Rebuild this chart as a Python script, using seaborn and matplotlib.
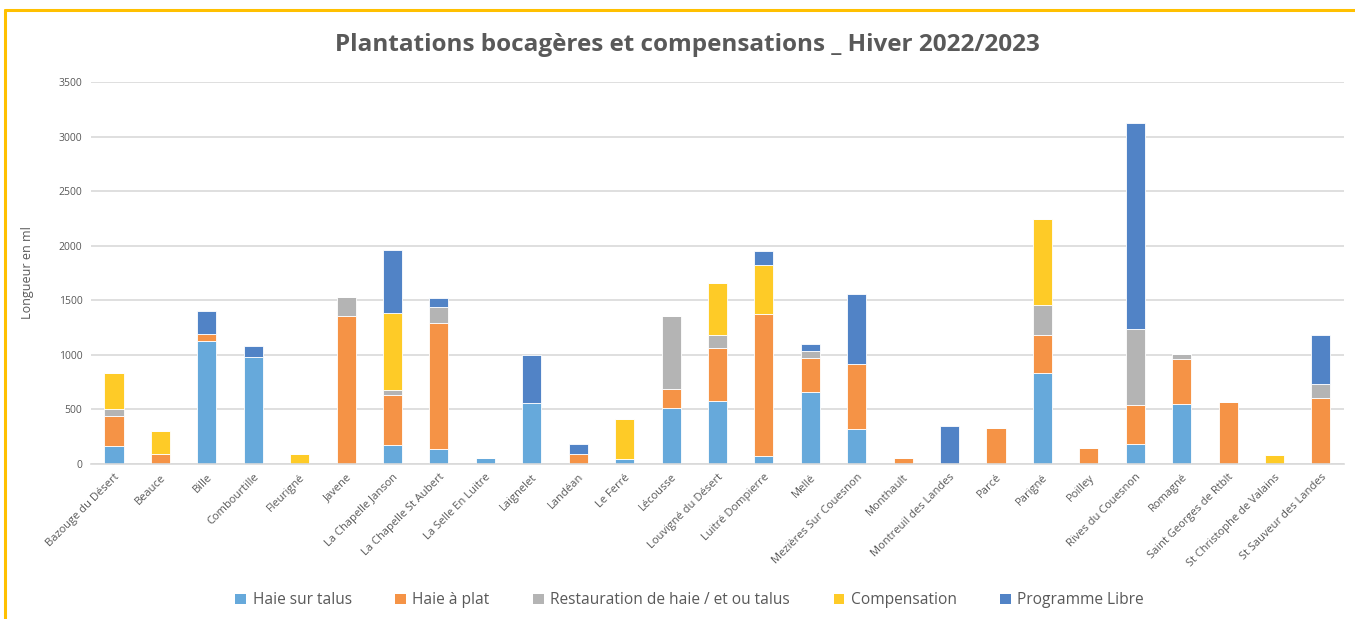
import matplotlib
matplotlib.use("Agg")
import matplotlib.pyplot as plt
import seaborn as sns
import numpy as np
from matplotlib.patches import Patch
from matplotlib.lines import Line2D

communes = ["Bazouge du Désert", "Beauce", "Bille", "Combourtille", "Fleurigné", "Javene",
            "La Chapelle Janson", "La Chapelle St Aubert", "La Selle En Luitre", "Laignelet",
            "Landéan", "Le Ferré", "Lécousse", "Louvigné du Désert", "Luitré Dompierre", "Mellé",
            "Mezières Sur Couesnon", "Monthault", "Montreuil des Landes", "Parcé", "Parigné",
            "Poilley", "Rives du Couesnon", "Romagné", "Saint Georges de Rtblt",
            "St Christophe de Valains", "St Sauveur des Landes"]

haie_sur_talus = [160, 0, 1120, 975, 0, 0, 170, 130, 55, 552, 0, 40, 510, 578, 65, 655, 315,
                  0, 0, 0, 828, 0, 180, 548, 0, 0, 0]
haie_a_plat = [275, 90, 67, 0, 0, 1355, 460, 1160, 0, 0, 90, 0, 170, 480, 1310, 312, 600,
               55, 0, 330, 352, 145, 358, 408, 565, 0, 602]
restauration = [62, 0, 0, 0, 0, 172, 40, 145, 0, 0, 0, 0, 670, 120, 0, 67, 0,
                0, 0, 0, 275, 0, 696, 52, 0, 0, 131]
compensation = [333, 210, 0, 0, 90, 0, 715, 0, 0, 0, 0, 366, 0, 475, 448, 0, 0,
                0, 0, 0, 792, 0, 0, 0, 0, 78, 0]
programme_libre = [0, 0, 208, 104, 0, 0, 577, 80, 0, 448, 90, 0, 0, 0, 130, 67, 644,
                   0, 340, 0, 0, 0, 1891, 0, 0, 0, 446]

series_names = ["Haie sur talus", "Haie à plat", "Restauration de haie / et ou talus",
                "Compensation", "Programme Libre"]
series_colors = ["#66A9DB", "#F59346", "#B4B4B4", "#FECB27", "#5183C6"]
yticks = [0, 500, 1000, 1500, 2000, 2500, 3000, 3500]

sns.set_style("white")
plt.rcParams['font.family'] = ['Open Sans', 'DejaVu Sans']
text_color = "#595959"

fig = plt.figure(figsize=(13.55, 6.19), dpi=100)
ax = fig.add_axes([0.067, 0.2512, 0.925, 0.6163])

data = [haie_sur_talus, haie_a_plat, restauration, compensation, programme_libre]
bottom = np.zeros(len(communes))
for name, vals, col in zip(series_names, data, series_colors):
    vals = np.array(vals, dtype=float)
    sns.barplot(x=communes, y=vals, bottom=bottom, color=col, width=0.41, ax=ax,
                edgecolor="white", linewidth=0.6, saturation=1)
    bottom = bottom + vals

ax.set_ylim(0, 3500)
ax.set_xlim(-0.5, len(communes) - 0.5)
ax.set_yticks(yticks)
ax.set_yticklabels([str(t) for t in yticks], fontsize=7.5, color=text_color)
ax.yaxis.grid(True, color="#D9D9D9", linewidth=1.2)
ax.set_axisbelow(True)
for s in ["top", "right", "left"]:
    ax.spines[s].set_visible(False)
ax.spines["bottom"].set_color("#D9D9D9")
ax.spines["bottom"].set_linewidth(1.2)
ax.tick_params(axis="both", length=0, pad=6)
ax.set_xticks(range(len(communes)))
ax.set_xticklabels(communes, rotation=45, ha="right", rotation_mode="anchor",
                   fontsize=8, color=text_color)
ax.set_xlabel("")
ax.set_ylabel("Longueur en ml", fontsize=9, color=text_color, labelpad=18)

fig.text(0.507, 0.927, "Plantations bocagères et compensations _ Hiver 2022/2023",
         ha="center", va="center", fontsize=17.5, fontweight="bold", color=text_color)

handles = [Patch(facecolor=c, edgecolor="none", label=n) for n, c in zip(series_names, series_colors)]
fig.legend(handles=handles, loc="center", bbox_to_anchor=(0.509, 0.03), ncol=5, frameon=False,
           fontsize=11.2, labelcolor=text_color, handlelength=0.7, handleheight=0.7,
           handletextpad=0.4, columnspacing=2.8)

border = "#FFC000"
fig.add_artist(Line2D([0.004, 1.0], [0.984, 0.984], color=border, linewidth=2.2,
                      transform=fig.transFigure))
fig.add_artist(Line2D([0.004, 0.004], [0.0, 0.984], color=border, linewidth=2.2,
                      transform=fig.transFigure))

fig.savefig("out.png", dpi=100)
